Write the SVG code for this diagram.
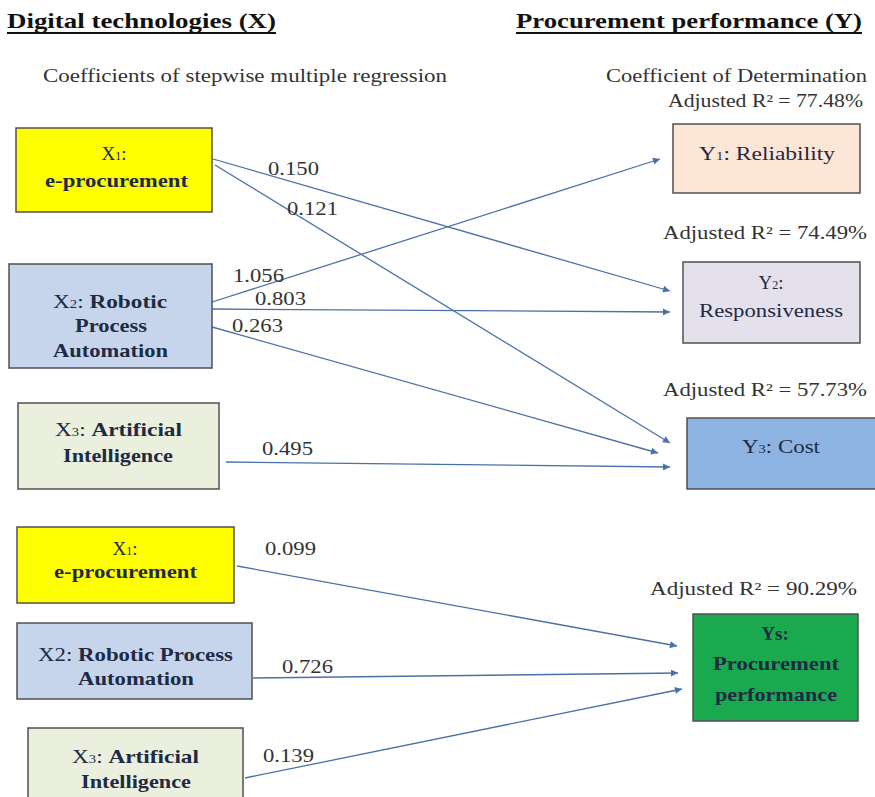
<svg xmlns="http://www.w3.org/2000/svg" width="875" height="797" viewBox="0 0 875 797" font-family="'Liberation Serif', 'Times New Roman', 'DejaVu Serif', serif">
<style>
text{font-family:'Liberation Serif','Times New Roman','DejaVu Serif',serif;}
.title{font-size:21px;font-weight:bold;fill:#111;}
.sub{font-size:18px;fill:#333;}
.lbl{font-size:18px;fill:#333;}
.bx{stroke:#505050;stroke-width:1.5;}
.bt{font-size:19px;fill:#1f2a44;}
.b{font-weight:bold;}
.sm{font-size:12px;}
.conn line{stroke:#4a70a8;stroke-width:1.3;fill:none;marker-end:url(#ah);}
</style>
<defs>
<marker id="ah" viewBox="0 0 10 10" refX="10" refY="5" markerWidth="11" markerHeight="7" markerUnits="userSpaceOnUse" orient="auto">
<path d="M0,0 L10,5 L0,10 z" fill="#4a70a8"/>
</marker>
</defs>
<rect width="875" height="797" fill="#fff"/>

<g id="headers">
<text class="title" x="7" y="28" textLength="269" lengthAdjust="spacingAndGlyphs">Digital technologies (X)</text>
<line x1="7" y1="33" x2="276" y2="33" stroke="#111" stroke-width="2"/>
<text class="title" x="516" y="28" textLength="346" lengthAdjust="spacingAndGlyphs">Procurement performance (Y)</text>
<line x1="516" y1="33" x2="862" y2="33" stroke="#111" stroke-width="2"/>
<text class="sub" x="43" y="82" textLength="404" lengthAdjust="spacingAndGlyphs">Coefficients of stepwise multiple regression</text>
<text class="sub" x="606" y="82" textLength="261" lengthAdjust="spacingAndGlyphs">Coefficient of Determination</text>
<text class="sub" x="668" y="107" textLength="195" lengthAdjust="spacingAndGlyphs">Adjusted R² = 77.48%</text>
<text class="sub" x="663" y="239" textLength="204" lengthAdjust="spacingAndGlyphs">Adjusted R² = 74.49%</text>
<text class="sub" x="663" y="396" textLength="204" lengthAdjust="spacingAndGlyphs">Adjusted R² = 57.73%</text>
<text class="sub" x="650" y="595" textLength="207" lengthAdjust="spacingAndGlyphs">Adjusted R² = 90.29%</text>
</g>

<g id="connectors" class="conn">
<line x1="213" y1="159" x2="670" y2="291"/>
<line x1="215" y1="165" x2="670" y2="443"/>
<line x1="212" y1="302" x2="660" y2="159"/>
<line x1="212" y1="309" x2="670" y2="312"/>
<line x1="212" y1="327" x2="658" y2="453"/>
<line x1="226" y1="462" x2="670" y2="467"/>
<line x1="237" y1="566" x2="677" y2="646"/>
<line x1="253" y1="678" x2="678" y2="673"/>
<line x1="245" y1="778" x2="682" y2="689"/>
</g>

<g id="labels">
<text class="lbl" x="268" y="175" textLength="51" lengthAdjust="spacingAndGlyphs">0.150</text>
<text class="lbl" x="287" y="215" textLength="51" lengthAdjust="spacingAndGlyphs">0.121</text>
<text class="lbl" x="233" y="282" textLength="51" lengthAdjust="spacingAndGlyphs">1.056</text>
<text class="lbl" x="255" y="305" textLength="51" lengthAdjust="spacingAndGlyphs">0.803</text>
<text class="lbl" x="232" y="332" textLength="51" lengthAdjust="spacingAndGlyphs">0.263</text>
<text class="lbl" x="262" y="455" textLength="51" lengthAdjust="spacingAndGlyphs">0.495</text>
<text class="lbl" x="265" y="555" textLength="51" lengthAdjust="spacingAndGlyphs">0.099</text>
<text class="lbl" x="282" y="673" textLength="51" lengthAdjust="spacingAndGlyphs">0.726</text>
<text class="lbl" x="263" y="762" textLength="51" lengthAdjust="spacingAndGlyphs">0.139</text>
</g>

<g id="x1-top">
<rect class="bx" x="16" y="128" width="196" height="84" fill="#ffff00"/>
<text class="bt" x="114" y="160" text-anchor="middle">X<tspan class="sm">1</tspan>:</text>
<text class="bt b" x="45" y="187" textLength="143" lengthAdjust="spacingAndGlyphs">e-procurement</text>
</g>
<g id="x2-top">
<rect class="bx" x="9" y="264" width="203" height="104" fill="#c6d5ec"/>
<text class="bt" x="53" y="308" textLength="114" lengthAdjust="spacingAndGlyphs">X<tspan class="sm">2</tspan>: <tspan class="b">Robotic</tspan></text>
<text class="bt b" x="75" y="332" textLength="72" lengthAdjust="spacingAndGlyphs">Process</text>
<text class="bt b" x="53" y="357" textLength="115" lengthAdjust="spacingAndGlyphs">Automation</text>
</g>
<g id="x3-top">
<rect class="bx" x="18" y="403" width="201" height="86" fill="#ebf0de"/>
<text class="bt" x="55" y="436" textLength="127" lengthAdjust="spacingAndGlyphs">X<tspan class="sm">3</tspan>: <tspan class="b">Artificial</tspan></text>
<text class="bt b" x="63" y="462" textLength="110" lengthAdjust="spacingAndGlyphs">Intelligence</text>
</g>
<g id="y1">
<rect class="bx" x="673" y="124" width="187" height="69" fill="#fde6d6"/>
<text class="bt" x="699" y="160" textLength="136" lengthAdjust="spacingAndGlyphs" fill="#333">Y<tspan class="sm">1</tspan>: Reliability</text>
</g>
<g id="y2">
<rect class="bx" x="683" y="262" width="177" height="81" fill="#e4e1ec"/>
<text class="bt" x="771" y="289" text-anchor="middle" fill="#333">Y<tspan class="sm">2</tspan>:</text>
<text class="bt" x="699" y="317" textLength="144" lengthAdjust="spacingAndGlyphs" fill="#333">Responsiveness</text>
</g>
<g id="y3">
<rect class="bx" x="687" y="418" width="190" height="71" fill="#8db3e2"/>
<text class="bt" x="742" y="453" textLength="78" lengthAdjust="spacingAndGlyphs">Y<tspan class="sm">3</tspan>: Cost</text>
</g>

<g id="x1-bottom">
<rect class="bx" x="17" y="527" width="217" height="76" fill="#ffff00"/>
<text class="bt" x="125" y="555" text-anchor="middle">X<tspan class="sm">1</tspan>:</text>
<text class="bt b" x="54" y="578" textLength="143" lengthAdjust="spacingAndGlyphs">e-procurement</text>
</g>
<g id="x2-bottom">
<rect class="bx" x="17" y="623" width="235" height="76" fill="#c6d5ec"/>
<text class="bt" x="38" y="661" textLength="195" lengthAdjust="spacingAndGlyphs">X2: <tspan class="b">Robotic Process</tspan></text>
<text class="bt b" x="78" y="685" textLength="116" lengthAdjust="spacingAndGlyphs">Automation</text>
</g>
<g id="x3-bottom">
<rect class="bx" x="28" y="728" width="215" height="80" fill="#ebf0de"/>
<text class="bt" x="72" y="763" textLength="127" lengthAdjust="spacingAndGlyphs">X<tspan class="sm">3</tspan>: <tspan class="b">Artificial</tspan></text>
<text class="bt b" x="81" y="788" textLength="110" lengthAdjust="spacingAndGlyphs">Intelligence</text>
</g>
<g id="y5">
<rect class="bx" x="693" y="614" width="165" height="107" fill="#1aa94e"/>
<text class="bt b" x="775" y="640" text-anchor="middle" fill="#0b3516">Ys:</text>
<text class="bt b" x="713" y="670" textLength="126" lengthAdjust="spacingAndGlyphs" fill="#0b3516">Procurement</text>
<text class="bt b" x="715" y="701" textLength="122" lengthAdjust="spacingAndGlyphs" fill="#0b3516">performance</text>
</g>
</svg>
